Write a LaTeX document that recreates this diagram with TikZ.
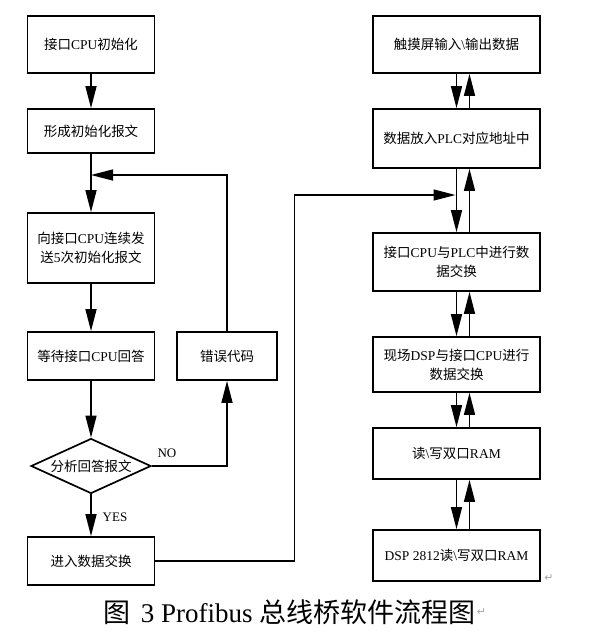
\documentclass[tikz,border=0pt]{standalone}
\usepackage{fontspec}
\setmainfont{Liberation Serif}
\newfontfamily\cjk{Noto Sans CJK SC}
\newfontfamily\marksfont{DejaVu Sans}
\usetikzlibrary{shapes.geometric}
\usetikzlibrary{arrows.meta}
\newcommand{\zh}[1]{{\cjk #1}}
\tikzset{
  flow_node/.style = {align=center, inner sep=0pt, text centered,
    font=\fontsize{13.5}{19}\selectfont},
  flow_box/.style = {flow_node, rectangle, draw=black, line width=1.7pt},% boite simple
  left_box/.style = {flow_box, minimum width=127pt},% colonne gauche
  right_box/.style = {flow_box, minimum width=167pt},% colonne droite
  check_node/.style = {flow_node, diamond, draw=black, line width=1.7pt,
    shape aspect=2.2, minimum width=120pt, minimum height=55pt},% test
  label_text/.style = {inner sep=0pt, font=\fontsize{13}{15}\selectfont},
  caption_text/.style = {inner sep=0pt, anchor=west, font=\fontsize{27}{30}\selectfont},
  mark_text/.style = {inner sep=0pt, gray!70, font=\marksfont\fontsize{11}{12}\selectfont},
  flow_arrow/.style = {line width=1.4pt, -{Triangle[length=22pt, width=11pt]}}
}

\begin{document}
\begin{tikzpicture}[x=1pt, y=-1pt]
  \useasboundingbox (0,0) rectangle (600,638);
  % colonne gauche
  \node [left_box, minimum height=57pt] (init_cpu) at (91,44.5) {\zh{接口}CPU\zh{初始化}};
  \node [left_box, minimum height=44pt] (form_msg) at (91,131) {\zh{形成初始化报文}};
  \node [left_box, minimum height=70pt] (send_msg) at (91,248)
    {\zh{向接口}CPU\zh{连续发}\\\zh{送}5\zh{次初始化报文}};
  \node [left_box, minimum height=48pt] (wait_ack) at (91,356) {\zh{等待接口}CPU\zh{回答}};
  \node [check_node] (check_ack) at (91,466) {\zh{分析回答报文}};
  \node [left_box, minimum height=48pt] (enter_swap) at (91,561) {\zh{进入数据交换}};
  \node [flow_box, minimum width=100pt, minimum height=48pt] (err_code) at (227,356) {\zh{错误代码}};
  \node [label_text] (no_label) at (167,453) {NO};
  \node [label_text] (yes_label) at (115,517) {YES};
  % colonne droite
  \node [right_box, minimum height=57pt] (touch_io) at (456.5,44.5)
    {\zh{触摸屏输入}\textbackslash\zh{输出数据}};
  \node [right_box, minimum height=59pt] (plc_addr) at (456.5,138.5)
    {\zh{数据放入}PLC\zh{对应地址中}};
  \node [right_box, minimum height=58pt] (cpu_plc) at (456.5,262)
    {\zh{接口}CPU\zh{与}PLC\zh{中进行数}\\\zh{据交换}};
  \node [right_box, minimum height=55pt] (dsp_cpu) at (456.5,364.5)
    {\zh{现场}DSP\zh{与接口}CPU\zh{进行}\\\zh{数据交换}};
  \node [right_box, minimum height=51pt] (rw_ram) at (456.5,453.5)
    {\zh{读}\textbackslash\zh{写双口}RAM};
  \node [right_box, minimum height=51pt] (dsp_ram) at (456.5,555.5)
    {DSP 2812\zh{读}\textbackslash\zh{写双口}RAM};
  \node [mark_text] (ret_box) at (549,578) {↵};
  % legende
  \node [caption_text] (caption) at (103,612) {\zh{图}\hspace{4pt} 3 Profibus \zh{总线桥软件流程图}};
  \node [mark_text, anchor=west] (ret_caption) at ([xshift=1pt]caption.east) {↵};

  \coordinate (join_l) at (91,175);
  \coordinate (join_r) at (455.5,195);

  \draw [flow_arrow] (init_cpu) -- (form_msg);
  \draw [flow_arrow] (form_msg) -- (send_msg);
  \draw [flow_arrow] (send_msg) -- (wait_ack);
  \draw [flow_arrow] (wait_ack) -- (check_ack);
  \draw [flow_arrow] (check_ack) -- (enter_swap);
  \draw [flow_arrow] (check_ack.east) -| (err_code.south);
  \draw [flow_arrow] (err_code.north) |- (join_l);
  \draw [flow_arrow] (enter_swap.east) -- ++(139,0) |- (join_r);

  \foreach \a/\b in {touch_io/plc_addr, plc_addr/cpu_plc, cpu_plc/dsp_cpu,
                     dsp_cpu/rw_ram, rw_ram/dsp_ram} {
    \draw [flow_arrow] (\a.south) -- (\b.north);
    \draw [flow_arrow] ([xshift=13pt]\b.north) -- ([xshift=13pt]\a.south);
  }
\end{tikzpicture}
\end{document}
